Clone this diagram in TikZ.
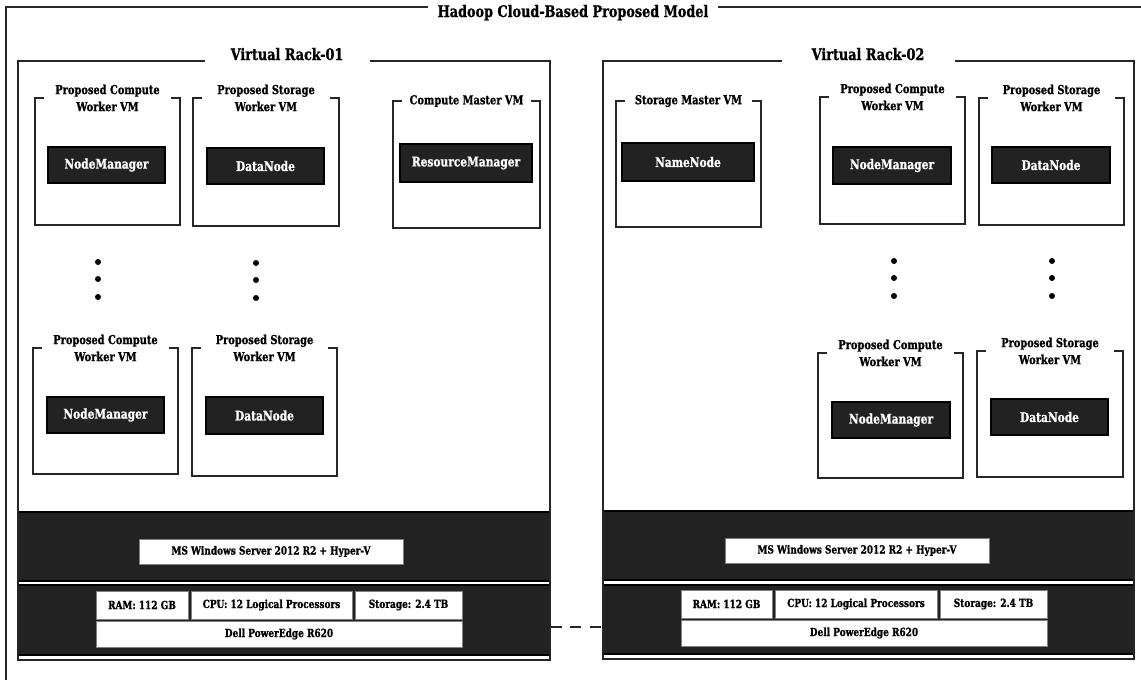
\documentclass[tikz,border=0pt]{standalone}
\usepackage{fontspec}
\setmainfont{DejaVu Serif}[FakeStretch=0.8, BoldFeatures={FakeBold=1}]
\definecolor{panel}{RGB}{34,34,34}
\definecolor{edge}{RGB}{38,38,38}
\tikzset{
  frameline/.style={line width=1.6pt, draw=edge},
  rackline/.style={line width=2pt, draw=edge},
  vmline/.style={line width=1.8pt, draw=edge},
  maintitle/.style={font=\bfseries\fontsize{16}{19}\selectfont, inner sep=0pt, anchor=base},
  racktitle/.style={font=\bfseries\fontsize{16}{19}\selectfont, inner sep=0pt, anchor=base},
  vmtitle/.style={font=\bfseries\fontsize{12.3}{17}\selectfont, align=center, inner sep=0pt},
  service/.style={draw=black, line width=1.4pt, fill=panel, text=white,
    font=\bfseries\fontsize{13.3}{16}\selectfont, inner sep=0pt},
  band/.style={draw=black, line width=1.4pt, fill=panel, inner sep=0pt},
  whitebox/.style={draw=black!50, line width=0.8pt, fill=white, inner sep=0pt,
    font=\bfseries\fontsize{11.2}{13}\selectfont},
  ellipsisdot/.style={circle, fill=black, inner sep=0pt, minimum size=6pt},
  racklink/.style={line width=1.8pt, draw=edge, dash pattern=on 11pt off 8.5pt},
}
% box given by its corners: style, name, x1, y1, x2, y2, text
\newcommand\boxnode[7]{%
  \node[#1, minimum width={#5-#3}, minimum height={#6-#4}] (#2)
    at ({(#3+#5)/2},{(#4+#6)/2}) {#7};}
% virtual machine frame with its title set into the top edge
\newcommand\vmframe[6]{%
  \draw[vmline] ({#2+9},#3) -- (#2,#3) -- (#2,#5) -- (#4,#5) -- (#4,#3) -- ({#4-9},#3);
  \node[vmtitle] (#1) at ({(#2+#4)/2},#3) {#6};}

\begin{document}
\begin{tikzpicture}[x=1pt,y=-1pt]
\useasboundingbox (0,0) rectangle (1141,680);

% ---------- whole model frame ----------
\node[maintitle] (model) at (573,17) {Hadoop Cloud-Based Proposed Model};
\draw[frameline] (428,7) -- (6,7) -- (6,684);
\draw[frameline] (718,7) -- (1145,7);

% ---------- Virtual Rack-01 ----------
\boxnode{band}{os1band}{18}{512}{550}{581}{}
\boxnode{band}{hw1band}{18}{585}{550}{655}{}
\draw[rackline] (205,61) -- (18,61) -- (18,660) -- (550,660) -- (550,61) -- (370,61);
\node[racktitle] (rack1) at (287,60) {Virtual Rack-01};

\vmframe{vm11}{35}{98}{180}{225}{Proposed Compute\\Worker VM}
\boxnode{service}{nm11}{48}{147}{165}{183}{NodeManager}
\vmframe{vm12}{193}{98}{339}{226}{Proposed Storage\\Worker VM}
\boxnode{service}{dn12}{207}{148}{324}{184}{DataNode}
\vmframe{vm13}{393}{101}{540}{228}{Compute Master VM}
\boxnode{service}{rm13}{400}{144}{532}{182}{ResourceManager}

\node[ellipsisdot] (d1a) at (98,262) {};
\node[ellipsisdot] (d1b) at (98,279) {};
\node[ellipsisdot] (d1c) at (98,297) {};
\node[ellipsisdot] (d2a) at (256,263) {};
\node[ellipsisdot] (d2b) at (256,280) {};
\node[ellipsisdot] (d2c) at (256,298) {};

\vmframe{vm14}{33}{348}{178}{474}{Proposed Compute\\Worker VM}
\boxnode{service}{nm14}{47}{397}{164}{433}{NodeManager}
\vmframe{vm15}{192}{348}{337}{476}{Proposed Storage\\Worker VM}
\boxnode{service}{dn15}{206}{397}{323}{434}{DataNode}

\boxnode{whitebox}{os1}{139}{539}{403}{564}{MS Windows Server 2012 R2 + Hyper-V}
\boxnode{whitebox}{ram1}{96}{591}{188}{619}{RAM: 112 GB}
\boxnode{whitebox}{cpu1}{191}{591}{352}{619}{CPU: 12 Logical Processors}
\boxnode{whitebox}{sto1}{355}{591}{462}{619}{Storage: 2.4 TB}
\boxnode{whitebox}{dell1}{96}{621}{462}{647}{Dell PowerEdge R620}

% ---------- Virtual Rack-02 ----------
\boxnode{band}{os2band}{603}{511}{1134}{580}{}
\boxnode{band}{hw2band}{603}{585}{1134}{654}{}
\draw[rackline] (782,61) -- (603,61) -- (603,659) -- (1134,659) -- (1134,61) -- (955,61);
\node[racktitle] (rack2) at (868,60) {Virtual Rack-02};

\vmframe{vm21}{616}{101}{761}{227}{Storage Master VM}
\boxnode{service}{nn21}{622}{143}{754}{181}{NameNode}
\vmframe{vm22}{820}{97}{965}{224}{Proposed Compute\\Worker VM}
\boxnode{service}{nm22}{833}{147}{951}{184}{NodeManager}
\vmframe{vm23}{979}{98}{1124}{225}{Proposed Storage\\Worker VM}
\boxnode{service}{dn23}{992}{147}{1110}{183}{DataNode}

\node[ellipsisdot] (d3a) at (894,261) {};
\node[ellipsisdot] (d3b) at (894,278) {};
\node[ellipsisdot] (d3c) at (894,296) {};
\node[ellipsisdot] (d4a) at (1052,261) {};
\node[ellipsisdot] (d4b) at (1052,278) {};
\node[ellipsisdot] (d4c) at (1052,296) {};

\vmframe{vm24}{818}{353}{963}{478}{Proposed Compute\\Worker VM}
\boxnode{service}{nm24}{832}{402}{950}{438}{NodeManager}
\vmframe{vm25}{977}{351}{1123}{477}{Proposed Storage\\Worker VM}
\boxnode{service}{dn25}{991}{399}{1108}{435}{DataNode}

\boxnode{whitebox}{os2}{725}{538}{989}{563}{MS Windows Server 2012 R2 + Hyper-V}
\boxnode{whitebox}{ram2}{681}{590}{772}{618}{RAM: 112 GB}
\boxnode{whitebox}{cpu2}{775}{590}{937}{618}{CPU: 12 Logical Processors}
\boxnode{whitebox}{sto2}{940}{590}{1047}{618}{Storage: 2.4 TB}
\boxnode{whitebox}{dell2}{681}{620}{1047}{646}{Dell PowerEdge R620}

% ---------- link between the two physical hosts ----------
\coordinate (link1) at (hw1band.east |- 0,627);
\coordinate (link2) at (hw2band.west |- 0,627);
\draw[racklink] (link1) -- (link2);
\end{tikzpicture}
\end{document}
